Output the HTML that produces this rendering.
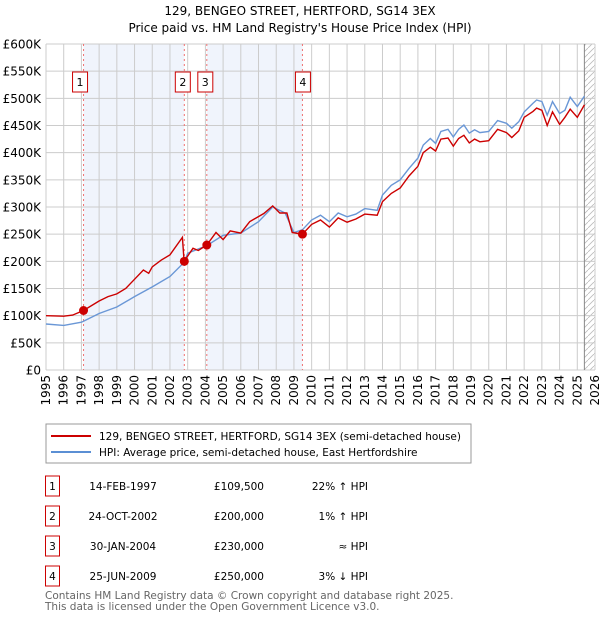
<!DOCTYPE html>
<html><head><meta charset="utf-8"><style>
body{margin:0;background:#fff;font-family:"DejaVu Sans","Liberation Sans",sans-serif;}
svg{display:block}
</style></head><body>
<svg id="chart" width="600" height="620" xmlns="http://www.w3.org/2000/svg" font-family="DejaVu Sans, Liberation Sans, sans-serif">
<defs><pattern id="hatch" patternUnits="userSpaceOnUse" width="6" height="6"><path d="M0,6 L6,0" stroke="#bbb" stroke-width="0.8"/></pattern></defs>
<text x="300" y="15" text-anchor="middle" font-size="12">129, BENGEO STREET, HERTFORD, SG14 3EX</text>
<text x="300" y="32" text-anchor="middle" font-size="12">Price paid vs. HM Land Registry's House Price Index (HPI)</text>
<g id="plot"></g>
<g>
<rect x="46" y="424" width="425" height="39" fill="#fff" stroke="#999"/>
<line x1="51" y1="436" x2="91" y2="436" stroke="#cc0000" stroke-width="2"/>
<text x="99" y="440" font-size="10.5">129, BENGEO STREET, HERTFORD, SG14 3EX (semi-detached house)</text>
<line x1="51" y1="452" x2="91" y2="452" stroke="#5b8fd4" stroke-width="2"/>
<text x="99" y="456" font-size="10.5">HPI: Average price, semi-detached house, East Hertfordshire</text>
</g>
<g id="table" font-size="10.5"></g>
<text x="45" y="599" font-size="10.5" fill="#666">Contains HM Land Registry data © Crown copyright and database right 2025.</text>
<text x="45" y="610" font-size="10.5" fill="#666">This data is licensed under the Open Government Licence v3.0.</text>
</svg>
<script>
const yTicks=[0,50000,100000,150000,200000,250000,300000,350000,400000,450000,500000,550000,600000];
const yTickLabels=["£0","£50K","£100K","£150K","£200K","£250K","£300K","£350K","£400K","£450K","£500K","£550K","£600K"];
const years=[1995,1996,1997,1998,1999,2000,2001,2002,2003,2004,2005,2006,2007,2008,2009,2010,2011,2012,2013,2014,2015,2016,2017,2018,2019,2020,2021,2022,2023,2024,2025,2026];
const hpiT=[1995,1996,1997,1997.12,1998,1999,2000,2001,2002,2002.8,2003,2004.08,2005,2006,2007,2007.8,2008.5,2009,2009.48,2010,2010.5,2011,2011.5,2012,2012.5,2013,2013.7,2014,2014.5,2015,2015.5,2016,2016.3,2016.7,2017,2017.3,2017.7,2018,2018.3,2018.6,2018.9,2019.2,2019.5,2020,2020.5,2021,2021.3,2021.7,2022,2022.5,2022.7,2023,2023.3,2023.6,2024,2024.3,2024.6,2025,2025.4];
const hpiV=[84700,82000,88000,89700,104000,116000,135000,153000,172000,198000,215000,229000,248000,252000,273000,300000,289000,253000,258000,276000,285000,273000,289000,282000,287000,297000,294000,322000,340000,350000,371000,390000,414000,426000,417000,439000,443000,429000,443000,451000,436000,442000,437000,439000,459000,454000,445000,457000,475000,491000,497000,494000,469000,494000,472000,478000,502000,485000,504000];
const propT=[1995,1996,1996.5,1997.12,1998,1998.5,1999,1999.5,2000,2000.5,2000.8,2001,2001.5,2002,2002.7,2002.8,2003.3,2003.6,2004.08,2004.6,2005,2005.4,2006,2006.5,2007.3,2007.8,2008.2,2008.6,2008.9,2009.48,2010,2010.5,2011,2011.5,2012,2012.5,2013,2013.7,2014,2014.5,2015,2015.5,2016,2016.3,2016.7,2017,2017.3,2017.7,2018,2018.3,2018.6,2018.9,2019.2,2019.5,2020,2020.5,2021,2021.3,2021.7,2022,2022.5,2022.7,2023,2023.3,2023.6,2024,2024.3,2024.6,2025,2025.4];
const propV=[100000,99000,101000,109500,127000,135000,140000,150000,167000,184000,178000,190000,202000,212000,244000,200000,224000,220000,230000,253000,240000,256000,252000,273000,288000,302000,289000,289000,253000,250000,268000,276000,263000,280000,272000,278000,287000,285000,310000,325000,335000,357000,375000,400000,410000,403000,425000,427000,412000,426000,432000,418000,425000,420000,422000,443000,437000,428000,440000,465000,476000,482000,478000,450000,475000,452000,465000,480000,465000,488000];
const saleLabels=["1","2","3","4"];
const saleT=[1997.12,2002.81,2004.08,2009.48];
const saleV=[109500,200000,230000,250000];
const saleDates=["14-FEB-1997","24-OCT-2002","30-JAN-2004","25-JUN-2009"];
const salePrices=["£109,500","£200,000","£230,000","£250,000"];
const saleRel=["22% ↑ HPI","1% ↑ HPI","≈ HPI","3% ↓ HPI"];
const hatchStart=2025.4;

const X0=46,X1=595,Y0=370,Y1=44;
const xs=t=>X0+(t-1995)/(2026-1995)*(X1-X0);
const ys=v=>Y0-v/600000*(Y0-Y1);
const NS="http://www.w3.org/2000/svg";
const plot=document.getElementById('plot');
function mk(tag,attrs,parent){const e=document.createElementNS(NS,tag);for(const k in attrs)e.setAttribute(k,attrs[k]);(parent||plot).appendChild(e);return e;}

for(let i=0;i<saleT.length;i+=2){
  const r=mk('rect',{x:xs(saleT[i]),y:Y1,width:xs(saleT[i+1])-xs(saleT[i]),height:Y0-Y1,fill:'#f0f4fc'});
  
  
}
const hr=mk('rect',{x:xs(hatchStart),y:Y1,width:X1-xs(hatchStart),height:Y0-Y1,fill:'url(#hatch)'});


years.forEach(y=>{const l=mk('line',{x1:xs(y),x2:xs(y),y1:Y1,y2:Y0,stroke:'#ccc','stroke-width':1});


const t=mk('text',{x:0,y:0,'font-size':12,transform:`translate(${xs(y)+4},${Y0+5}) rotate(-90)`,'text-anchor':'end'});
t.textContent=y;

});
yTicks.forEach((v,i)=>{const l=mk('line',{x1:X0,x2:X1,y1:ys(v),y2:ys(v),stroke:'#ccc','stroke-width':1});


const t=mk('text',{x:X0-5,y:ys(v)+4.5,'font-size':12,'text-anchor':'end'});
t.textContent=yTickLabels[i];

});
const vl=mk('line',{x1:xs(hatchStart),x2:xs(hatchStart),y1:Y1,y2:Y0,stroke:'#888','stroke-width':1});


saleT.forEach((t,i)=>{const l=mk('line',{x1:xs(t),x2:xs(t),y1:Y1,y2:Y0,stroke:'#f07070','stroke-width':1,'stroke-dasharray':'2,3'});


const bx=xs(t)-(i===0?10:i===3?6:8);
const r=mk('rect',{x:bx-1,y:72,width:15,height:20,fill:'#fff',stroke:'#cc0000','stroke-width':1});


const tx=mk('text',{x:bx+6.5,y:86,'font-size':11,'text-anchor':'middle'});
tx.textContent=saleLabels[i];

});
const hp=mk('path',{d:hpiT.map((t,i)=>(i?'L':'M')+xs(t).toFixed(1)+','+ys(hpiV[i]).toFixed(1)).join(''),fill:'none',stroke:'#6a97d6','stroke-width':1.4});


const pp=mk('path',{d:propT.map((t,i)=>(i?'L':'M')+xs(t).toFixed(1)+','+ys(propV[i]).toFixed(1)).join(''),fill:'none',stroke:'#cc0000','stroke-width':1.4});


saleT.forEach((t,i)=>{const c=mk('circle',{cx:xs(t),cy:ys(saleV[i]),r:4.5,fill:'#cc0000'});

});
const tb=document.getElementById('table');
saleLabels.forEach((s,i)=>{const y=476+i*30;
const r=mk('rect',{x:45.5,y:y,width:14,height:20,fill:'#fff',stroke:'#cc0000','stroke-width':1},tb);


const cells=[[52.5,'middle',s,'table-row-number'],[123,'middle',saleDates[i],'table-date'],[264,'end',salePrices[i],'table-price'],[368,'end',saleRel[i],'table-hpi-relation']];
cells.forEach(c=>{const t=mk('text',{x:c[0],y:y+14,'text-anchor':c[1]},tb);t.textContent=c[2];

});});
</script>
</body></html>
